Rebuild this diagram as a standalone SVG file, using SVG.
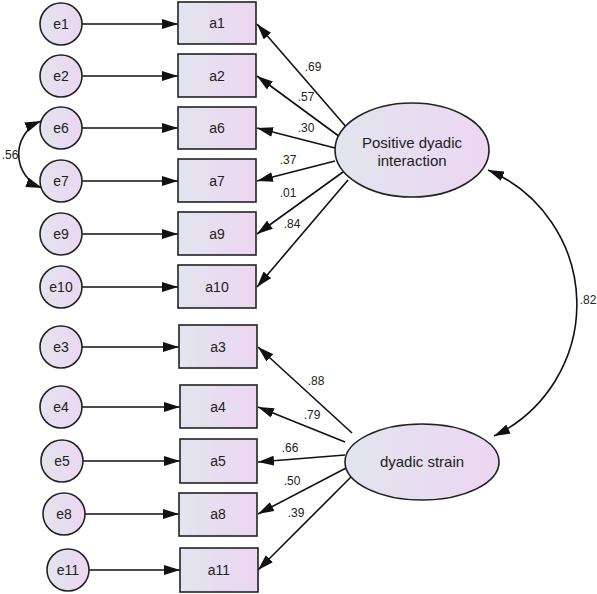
<svg xmlns="http://www.w3.org/2000/svg" width="597" height="594" viewBox="0 0 597 594">
<style>
.n{stroke:#222;stroke-width:1.6;fill:url(#g)}
.t{font-family:"Liberation Sans",Arial,sans-serif;font-size:14px;fill:#222;text-anchor:middle}
.L{font-size:15px}
.v{font-family:"Liberation Sans",Arial,sans-serif;font-size:12px;fill:#222;text-anchor:middle}
.c{stroke:#111;stroke-width:1.6;fill:none}
.a{marker-end:url(#ah)}
.b{marker-start:url(#as);marker-end:url(#ah)}
</style>
<defs>
<linearGradient id="g" x1="0" y1="0" x2="1" y2="0">
<stop offset="0" stop-color="#e1e5ee"/>
<stop offset="1" stop-color="#edd6f2"/>
</linearGradient>
<marker id="ah" viewBox="0 0 16 10" refX="16" refY="5" markerWidth="16" markerHeight="10" markerUnits="userSpaceOnUse" orient="auto">
<path d="M0,0 L16,5 L0,10 z" fill="#111"/>
</marker>
<marker id="as" viewBox="0 0 16 10" refX="0" refY="5" markerWidth="16" markerHeight="10" markerUnits="userSpaceOnUse" orient="auto">
<path d="M16,0 L0,5 L16,10 z" fill="#111"/>
</marker>
</defs>
<g id="connectors">
<line class="c a" x1="82" y1="24" x2="178" y2="24"/>
<line class="c a" x1="82" y1="76" x2="178" y2="76"/>
<line class="c a" x1="82" y1="128" x2="178" y2="128"/>
<line class="c a" x1="82" y1="181" x2="178" y2="181"/>
<line class="c a" x1="82" y1="234" x2="178" y2="234"/>
<line class="c a" x1="82" y1="287" x2="178" y2="287"/>
<line class="c a" x1="82" y1="347" x2="179" y2="347"/>
<line class="c a" x1="82" y1="407" x2="180" y2="407"/>
<line class="c a" x1="83" y1="461" x2="180" y2="461"/>
<line class="c a" x1="85" y1="514" x2="179" y2="514"/>
<line class="c a" x1="89" y1="570" x2="180" y2="570"/>
<line class="c a" x1="348" y1="129" x2="257" y2="24"/>
<line class="c a" x1="340" y1="137" x2="257" y2="76"/>
<line class="c a" x1="335" y1="148" x2="257" y2="128"/>
<line class="c a" x1="335" y1="161" x2="257" y2="181"/>
<line class="c a" x1="343" y1="172" x2="257" y2="234"/>
<line class="c a" x1="348" y1="180" x2="257" y2="287"/>
<line class="c a" x1="352" y1="433" x2="258" y2="347"/>
<line class="c a" x1="345" y1="442" x2="258" y2="407"/>
<line class="c a" x1="345" y1="455" x2="258" y2="462"/>
<line class="c a" x1="348" y1="467" x2="258" y2="514"/>
<line class="c a" x1="353" y1="475" x2="258" y2="570"/>
<path class="c b" d="M488,170 A146,146 0 0 1 494,436"/>
<path class="c b" d="M41,121 A36,36 0 0 0 42,188"/>
</g>
<g id="e1"><circle class="n" cx="61" cy="24" r="21"/><text class="t" x="61" y="29">e1</text></g>
<g id="e2"><circle class="n" cx="61" cy="76" r="21"/><text class="t" x="61" y="81">e2</text></g>
<g id="e6"><circle class="n" cx="61" cy="128" r="21"/><text class="t" x="61" y="133">e6</text></g>
<g id="e7"><circle class="n" cx="61" cy="181" r="21"/><text class="t" x="61" y="186">e7</text></g>
<g id="e9"><circle class="n" cx="61" cy="234" r="21"/><text class="t" x="61" y="239">e9</text></g>
<g id="e10"><circle class="n" cx="61" cy="287" r="21"/><text class="t" x="61" y="292">e10</text></g>
<g id="e3"><circle class="n" cx="61" cy="347" r="21"/><text class="t" x="61" y="352">e3</text></g>
<g id="e4"><circle class="n" cx="61" cy="407" r="21"/><text class="t" x="61" y="412">e4</text></g>
<g id="e5"><circle class="n" cx="62" cy="461" r="21"/><text class="t" x="62" y="466">e5</text></g>
<g id="e8"><circle class="n" cx="64" cy="514" r="21"/><text class="t" x="64" y="519">e8</text></g>
<g id="e11"><circle class="n" cx="68" cy="570" r="21"/><text class="t" x="68" y="575">e11</text></g>
<g id="a1"><rect class="n" x="178" y="2" width="78" height="42"/><text class="t" x="217" y="28">a1</text></g>
<g id="a2"><rect class="n" x="178" y="54" width="78" height="43"/><text class="t" x="217" y="81">a2</text></g>
<g id="a6"><rect class="n" x="178" y="107" width="78" height="42"/><text class="t" x="217" y="133">a6</text></g>
<g id="a7"><rect class="n" x="178" y="159" width="78" height="43"/><text class="t" x="217" y="186">a7</text></g>
<g id="a9"><rect class="n" x="178" y="212" width="78" height="43"/><text class="t" x="217" y="239">a9</text></g>
<g id="a10"><rect class="n" x="178" y="265" width="78" height="43"/><text class="t" x="217" y="292">a10</text></g>
<g id="a3"><rect class="n" x="179" y="325" width="78" height="43"/><text class="t" x="218" y="352">a3</text></g>
<g id="a4"><rect class="n" x="180" y="385" width="77" height="43"/><text class="t" x="218" y="412">a4</text></g>
<g id="a5"><rect class="n" x="180" y="439" width="77" height="44"/><text class="t" x="218" y="466">a5</text></g>
<g id="a8"><rect class="n" x="179" y="493" width="78" height="43"/><text class="t" x="218" y="519">a8</text></g>
<g id="a11"><rect class="n" x="180" y="548" width="78" height="44"/><text class="t" x="219" y="575">a11</text></g>
<g id="pdi"><ellipse class="n" cx="412" cy="150" rx="77" ry="47"/><text class="t L" x="412" y="148">Positive dyadic</text><text class="t L" x="412" y="166">interaction</text></g>
<g id="ds"><ellipse class="n" cx="422" cy="462" rx="77" ry="38"/><text class="t L" x="422" y="467">dyadic strain</text></g>
<g id="labels">
<text class="v" x="313" y="71">.69</text>
<text class="v" x="306" y="101">.57</text>
<text class="v" x="306" y="132">.30</text>
<text class="v" x="288" y="164">.37</text>
<text class="v" x="288" y="197">.01</text>
<text class="v" x="292" y="228">.84</text>
<text class="v" x="316" y="385">.88</text>
<text class="v" x="312" y="419">.79</text>
<text class="v" x="290" y="452">.66</text>
<text class="v" x="292" y="485">.50</text>
<text class="v" x="296" y="517">.39</text>
<text class="v" x="588" y="304">.82</text>
<text class="v" x="10" y="159">.56</text>
</g>
</svg>
